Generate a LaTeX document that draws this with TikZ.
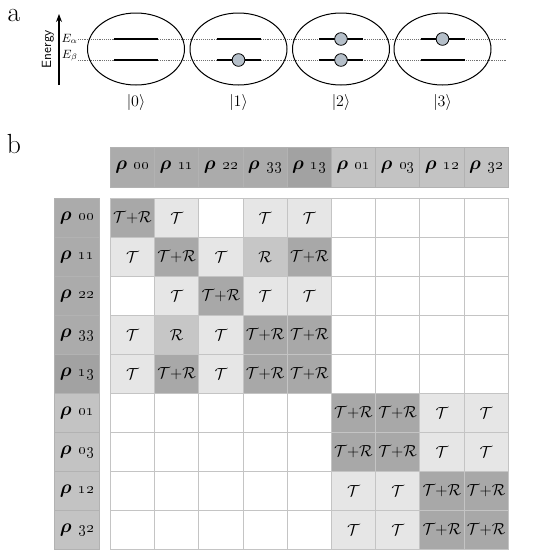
\documentclass[tikz,border=0pt]{standalone}
\usepackage{amsmath,amssymb}
\usepackage{tikz}
\usetikzlibrary{calc, shapes.geometric, arrows.meta}
\definecolor{celldark}{HTML}{A8A8A8}
\definecolor{cellmid}{HTML}{C6C6C6}
\definecolor{celllight}{HTML}{E6E6E6}
\definecolor{gridgray}{HTML}{C4C4C4}
\definecolor{hdrdark}{HTML}{ABABAB}
\definecolor{hdrdeep}{HTML}{A2A2A2}
\definecolor{hdrlight}{HTML}{C3C3C3}
\definecolor{dotgray}{HTML}{707070}
\definecolor{ballfill}{HTML}{B5BFC9}
\newcommand{\rhosub}[1]{{\Large$\boldsymbol{\rho}$}\enspace{\large\oldstylenums{#1}}}

\begin{document}
\begin{tikzpicture}[x=0.75pt, y=-0.75pt,
  orbit/.style={ellipse, draw, line width=0.75pt, minimum width=72.75pt,
               minimum height=54pt, inner sep=0pt},
  lvlup/.style={line width=1.5pt},
  lvldown/.style={line width=1.1pt},
  ball/.style={circle, draw, fill=ballfill, line width=0.6pt, minimum size=9.5pt, inner sep=0pt},
  guide/.style={dotgray, line width=0.6pt, dash pattern=on 0.7pt off 0.7pt},
  cell/.style={rectangle, draw=gridgray, line width=0.6pt, anchor=north west, inner sep=0pt,
               minimum width=33.15pt, minimum height=29.25pt, font=\fontsize{12}{14}\selectfont},
  hdr/.style={rectangle, draw=black!30, line width=0.5pt, anchor=north west, inner sep=0pt,
              minimum width=33.15pt, minimum height=30pt},
  lbl/.style={rectangle, draw=black!30, line width=0.5pt, anchor=north west, inner sep=0pt,
              minimum width=33.75pt, minimum height=29.25pt},
  kx/.style={fill=celldark, node contents={$\mathcal{T}$+$\mathcal{R}$}},
  kt/.style={fill=celllight, node contents={$\mathcal{T}$}},
  kr/.style={fill=cellmid, node contents={$\mathcal{R}$}},
  kn/.style={fill=white, node contents={}}]
\useasboundingbox[fill=white] (0,0) rectangle (552,557);

% panel a
\node[anchor=base, font=\huge] (pa) at (14,21) {a};
\coordinate (ebot) at (59,85);
\coordinate (etop) at (59,14);
\draw[-{Stealth[length=6pt,width=4.5pt]}, line width=0.9pt] (ebot) -- (etop);
\node[rotate=90, font=\sffamily] (en) at (48,49) {Energy};
\node[anchor=base east, font=\small, inner sep=0pt] (ea) at (78,42) {$E_\alpha$};
\node[anchor=base east, font=\small, inner sep=0pt] (eb) at (78,58) {$E_\beta$};
\coordinate (ga) at (506,39);
\coordinate (gb) at (506,60);
\draw[guide] (ea.east|-ga) -- (ga);
\draw[guide] (eb.east|-gb) -- (gb);

\foreach \cx [count=\i from 0] in {136,238.5,341,442.5} {
  \node[orbit] (e\i) at (\cx,49) {};
  \draw[lvlup] ($(e\i.center)+(-22,-10)$) -- ++(44,0);
  \draw[lvldown] ($(e\i.center)+(-22,11)$) -- ++(44,0);
  \node[font=\large] (k\i) at ($(e\i.center)+(0,53)$) {$|\i\rangle$};
}
\node[ball] (b1d) at ($(e1.center)+(0,11)$) {};
\node[ball] (b2u) at ($(e2.center)+(0,-10)$) {};
\node[ball] (b2d) at ($(e2.center)+(0,11)$) {};
\node[ball] (b3u) at ($(e3.center)+(0,-10)$) {};

% panel b
\node[anchor=base, font=\huge] (pb) at (14,153) {b};
\foreach \s/\f [count=\j from 0] in {00/hdrdark,11/hdrdark,22/hdrdark,33/hdrdark,13/hdrdeep,
                                     01/hdrlight,03/hdrlight,12/hdrlight,32/hdrlight} {
  \node[hdr, fill=\f] (h\j) at ({110+44.2*\j},147) {\rhosub{\s}};
  \node[lbl, fill=\f] (r\j) at (54,{198+39*\j}) {\rhosub{\s}};
}
\foreach \row [count=\j from 0] in {{x,t,n,t,t,n,n,n,n},{t,x,t,r,x,n,n,n,n},{n,t,x,t,t,n,n,n,n},
                                    {t,r,t,x,x,n,n,n,n},{t,x,t,x,x,n,n,n,n},{n,n,n,n,n,x,x,t,t},
                                    {n,n,n,n,n,x,x,t,t},{n,n,n,n,n,t,t,x,x},{n,n,n,n,n,t,t,x,x}} {
  \foreach \c [count=\i from 0] in \row
    \node[cell, name=c\j-\i, at={({110+44.2*\i},{198+39*\j})}, k\c];
}
\end{tikzpicture}
\end{document}
